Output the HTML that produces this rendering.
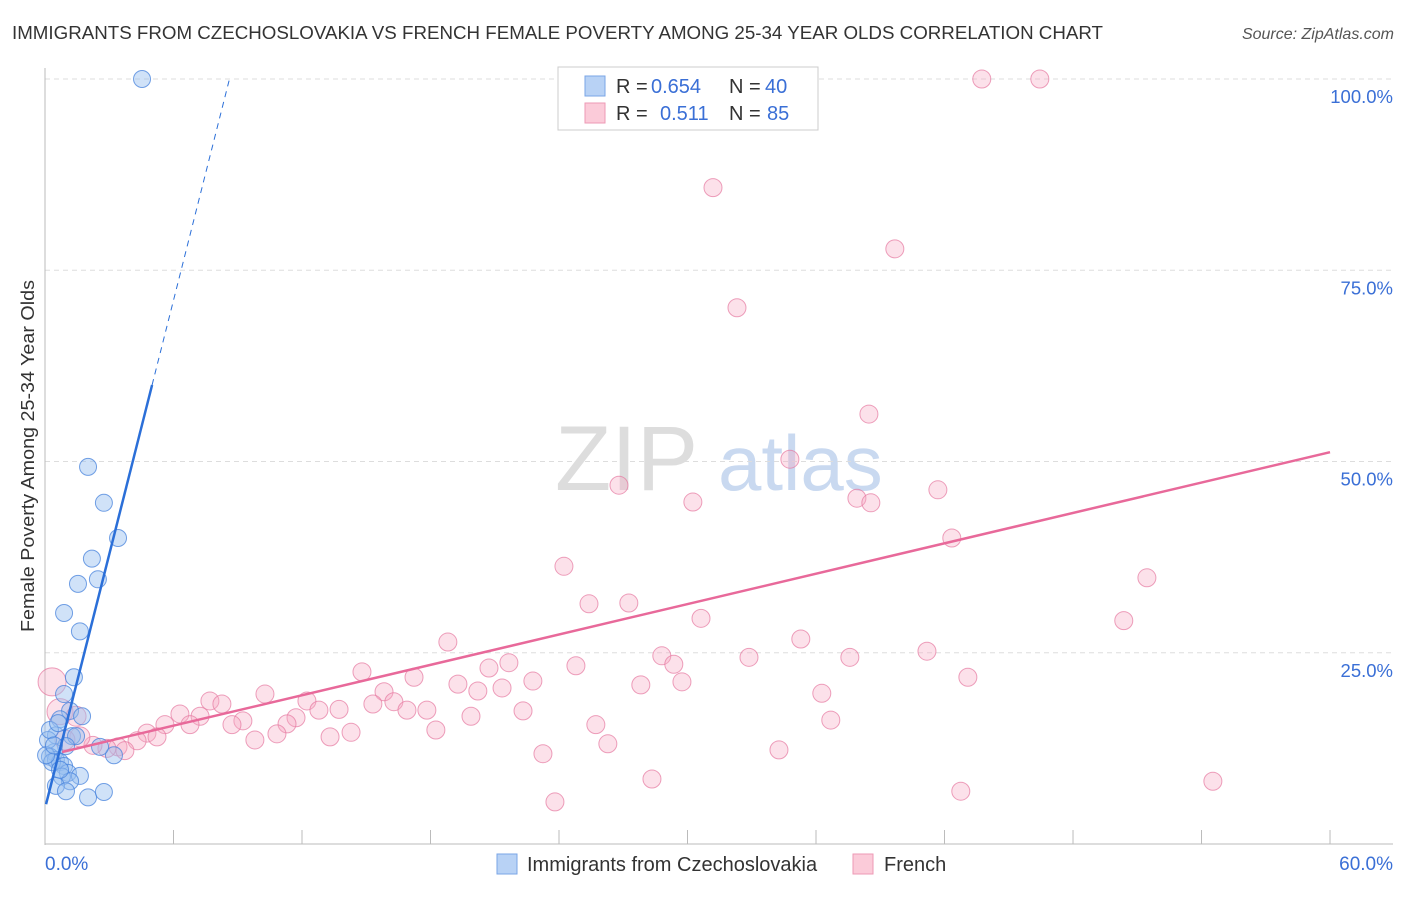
<!DOCTYPE html>
<html><head><meta charset="utf-8"><style>
body{margin:0;background:#fff;font-family:"Liberation Sans",sans-serif}
svg text{font-family:"Liberation Sans",sans-serif}
</style></head><body>
<svg id="chart" width="1406" height="892">
<text x="12" y="39" font-size="18" fill="#333" textLength="1091" lengthAdjust="spacingAndGlyphs">IMMIGRANTS FROM CZECHOSLOVAKIA VS FRENCH FEMALE POVERTY AMONG 25-34 YEAR OLDS CORRELATION CHART</text>
<text x="1394" y="39" font-size="16" fill="#555" font-style="italic" text-anchor="end">Source: ZipAtlas.com</text>
<text x="555" y="490" font-size="92" fill="#ddd" font-family="Liberation Serif">ZIP</text>
<text x="718" y="490" font-size="78" fill="#c9d9f0">atlas</text>
<g id="grid"></g>
<line x1="45" y1="68" x2="45" y2="845" stroke="#bbb"/>
<line x1="45" y1="844" x2="1393" y2="844" stroke="#bbb"/>
<g id="ticks"></g>
<g id="pts"></g>
<g id="lines"></g>
<text transform="translate(34,456) rotate(-90)" font-size="18" fill="#333" text-anchor="middle" textLength="352" lengthAdjust="spacingAndGlyphs">Female Poverty Among 25-34 Year Olds</text>
<text x="45" y="870" font-size="19" fill="#3a6fd6">0.0%</text>
<text x="1393" y="870" font-size="19" fill="#3a6fd6" text-anchor="end">60.0%</text>
<g>
<rect x="558" y="67" width="260" height="63" fill="#fff" stroke="#ccc"/>
<rect x="585" y="76" width="20" height="20" fill="#b8d2f5" stroke="#7aa5e6"/>
<rect x="585" y="103" width="20" height="20" fill="#fbcbd9" stroke="#ee9ab5"/>
<text x="616" y="93" font-size="20" fill="#333">R =</text>
<text x="651" y="93" font-size="20" fill="#3a6fd6">0.654</text>
<text x="729" y="93" font-size="20" fill="#333">N =</text>
<text x="765" y="93" font-size="20" fill="#3a6fd6">40</text>
<text x="616" y="120" font-size="20" fill="#333">R =</text>
<text x="660" y="120" font-size="20" fill="#3a6fd6">0.511</text>
<text x="729" y="120" font-size="20" fill="#333">N =</text>
<text x="767" y="120" font-size="20" fill="#3a6fd6">85</text>
</g>
<g>
<rect x="497" y="854" width="20" height="20" fill="#b8d2f5" stroke="#7aa5e6"/>
<text x="527" y="871" font-size="20" fill="#333">Immigrants from Czechoslovakia</text>
<rect x="853" y="854" width="20" height="20" fill="#fbcbd9" stroke="#ee9ab5"/>
<text x="884" y="871" font-size="20" fill="#333">French</text>
</g>
</svg>
<script>
const yTicks=[25,50,75,100];
const yTickLabels=["25.0%","50.0%","75.0%","100.0%"];
const xTicks=[0,6,12,18,24,30,36,42,48,54,60];
const blueX=[4.53,2.01,2.75,3.41,2.19,2.47,1.54,0.89,1.63,1.35,0.89,1.17,1.73,0.70,0.51,1.26,1.45,0.98,0.42,0.23,0.51,0.70,0.33,0.89,1.07,0.79,1.63,1.17,0.51,0.98,2.01,2.75,3.22,2.57,0.14,0.23,0.61,0.05,0.70,0.42];
const blueY=[100,49.3,44.6,40.0,37.3,34.6,34.0,30.2,27.8,21.8,19.6,17.4,16.7,16.3,14.2,14.1,14.1,12.8,12.0,11.4,11.0,10.7,10.7,10.2,9.3,8.8,8.9,8.2,7.6,6.9,6.1,6.8,11.6,12.7,13.6,14.9,15.8,11.6,9.7,12.9];
const pinkX=[43.74,46.45,31.19,39.68,32.31,38.47,34.78,26.80,37.91,38.56,30.25,41.69,42.34,24.23,51.45,25.40,27.26,30.63,50.37,18.81,35.29,41.18,28.80,32.87,37.58,29.36,21.66,20.73,24.79,14.80,17.23,43.09,22.78,19.28,20.21,27.82,29.74,21.34,15.83,10.27,7.70,8.26,12.23,36.27,15.31,16.29,16.90,17.83,6.30,7.24,11.72,13.73,22.32,19.89,12.79,36.69,5.60,6.77,9.24,8.73,11.30,25.72,4.76,5.23,4.30,10.83,13.31,14.29,18.25,9.80,26.28,3.41,3.73,2.89,2.24,34.27,23.25,28.34,42.76,54.53,23.81,0.33,0.70,1.45,1.63,0.93];
const pinkY=[100,100,85.8,77.8,70.1,56.2,50.3,46.9,45.2,44.6,44.7,46.3,40.0,36.3,34.8,31.4,31.5,29.5,29.2,26.4,26.8,25.2,24.6,24.4,24.4,23.5,23.7,23.0,23.3,22.5,21.8,21.8,21.3,20.9,20.0,20.8,21.2,20.4,19.9,19.6,18.7,18.3,18.7,19.7,18.3,18.6,17.5,17.5,17.0,16.7,16.5,17.6,17.4,16.7,17.5,16.2,15.6,15.6,16.1,15.6,15.7,15.6,14.5,14.0,13.5,14.4,14.0,14.6,14.9,13.6,13.1,12.7,12.2,12.5,12.9,12.3,11.8,8.5,6.9,8.2,5.5,21.2,17.3,16.7,14.0,13.6];
const blueTrend=[4.65,11.07]; // intercept, slope
const pinkTrend=[11.5,0.662];
const X=v=>45+v*21.417, Y=v=>844-v*7.65;
const NS="http://www.w3.org/2000/svg";
function mk(tag,attrs,parent){const e=document.createElementNS(NS,tag);for(const k in attrs)e.setAttribute(k,attrs[k]);document.getElementById(parent).appendChild(e);return e;}
yTicks.forEach((t,i)=>{
 const g=mk('line',{x1:45,x2:1393,y1:Y(t),y2:Y(t),stroke:'#ddd','stroke-dasharray':'5,4'},'grid');
 
 
 const tx=mk('text',{x:1393,y:Y(t)+24,'font-size':18.5,fill:'#3a6fd6','text-anchor':'end'},'grid');
 tx.textContent=yTickLabels[i];
 
 
});
xTicks.forEach(t=>{
 const l=mk('line',{x1:X(t),x2:X(t),y1:830,y2:844,stroke:'#bbb'},'ticks');
 
 
});
pinkX.forEach((x,i)=>{
 const r=i>=81?(i==81?14:i==82?13:10):9;
 const c=mk('circle',{cx:X(x),cy:Y(pinkY[i]),r:r,fill:'rgba(246,170,196,0.35)',stroke:'rgba(230,120,160,0.7)','stroke-width':1},'pts');
 
 
});
blueX.forEach((x,i)=>{
 const c=mk('circle',{cx:X(x),cy:Y(blueY[i]),r:8.5,fill:'rgba(150,190,240,0.45)',stroke:'rgba(70,130,220,0.75)','stroke-width':1},'pts');
 
 
});
const bx1=(60-blueTrend[0])/blueTrend[1], bx2=(100-blueTrend[0])/blueTrend[1];
const b1=mk('line',{x1:X(0.05),y1:Y(blueTrend[0]+blueTrend[1]*0.05),x2:X(bx1),y2:Y(60),stroke:'#2b6fd8','stroke-width':2.5},'lines');


const b2=mk('line',{x1:X(bx1),y1:Y(60),x2:X(bx2),y2:Y(100),stroke:'#2b6fd8','stroke-width':1,'stroke-dasharray':'6,5'},'lines');


const p1=mk('line',{x1:X(0.8),y1:Y(pinkTrend[0]+pinkTrend[1]*0.8),x2:X(60),y2:Y(pinkTrend[0]+pinkTrend[1]*60),stroke:'#e8699a','stroke-width':2.5},'lines');


</script>
</body></html>
